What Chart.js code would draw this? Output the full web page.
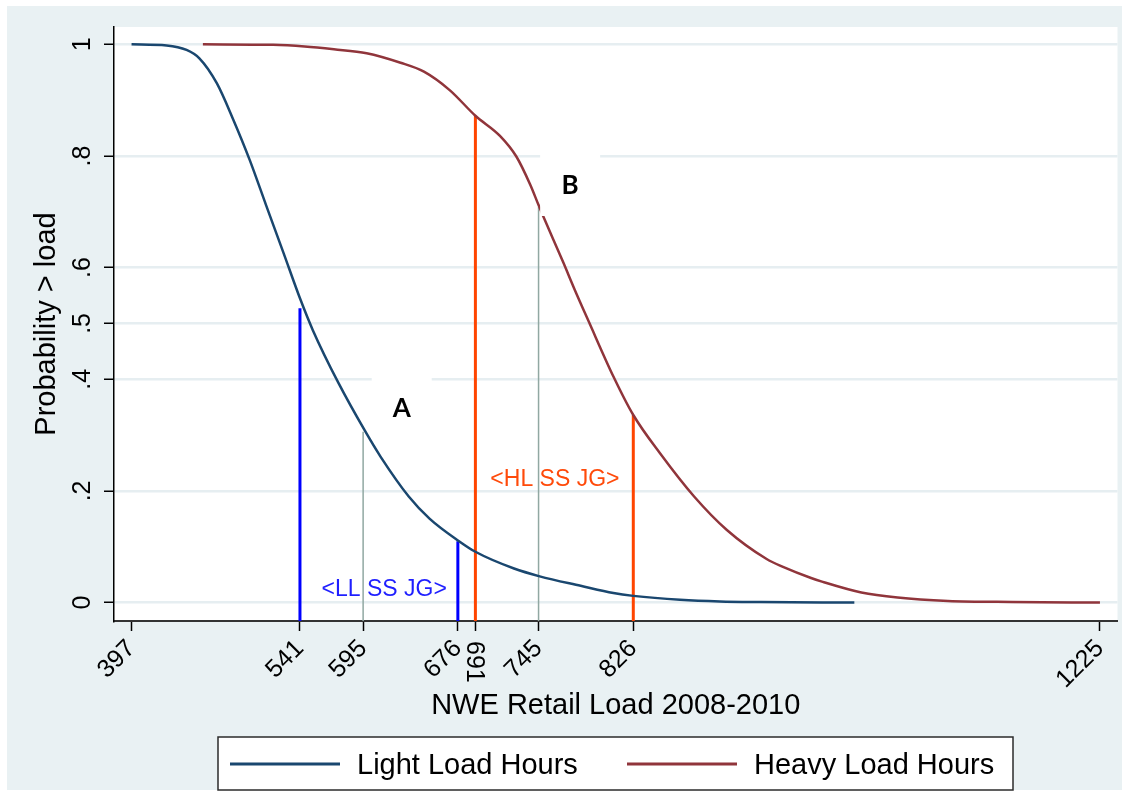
<!DOCTYPE html>
<html>
<head>
<meta charset="utf-8">
<title>NWE Retail Load 2008-2010</title>
<script src="https://cdn.jsdelivr.net/npm/chart.js@4.4.1/dist/chart.umd.min.js"></script>
<style>
  html, body { margin: 0; padding: 0; background: #fff; }
  #wrap { width: 1129px; height: 795px; }
</style>
</head>
<body>
<div id="wrap"><canvas id="loadChart" width="1129" height="795"></canvas></div>
<script>
// exceedance curves: probability that hourly load is above a given level
const lightLoad = [397, 427, 444, 455, 470, 484, 498, 512, 527, 541, 552, 574, 597, 610, 634, 652, 677, 691, 724, 746, 781, 809, 826, 866, 900, 935, 1015];
const lightProb = [1, 0.998, 0.99, 0.975, 0.93, 0.865, 0.793, 0.712, 0.626, 0.545, 0.488, 0.393, 0.306, 0.261, 0.19, 0.15, 0.11, 0.091, 0.061, 0.047, 0.03, 0.017, 0.012, 0.005, 0.002, 0.001, 0];

const heavyLoad = [458, 518, 545, 570, 598, 627, 647, 669, 691, 712, 726, 738, 745, 749, 766, 776, 788, 809, 826, 849, 878, 906, 940, 954, 978, 988, 1021, 1052, 1095, 1150, 1225];
const heavyProb = [1, 0.999, 0.996, 0.991, 0.984, 0.967, 0.951, 0.918, 0.872, 0.836, 0.799, 0.748, 0.712, 0.692, 0.61, 0.56, 0.503, 0.405, 0.336, 0.267, 0.19, 0.13, 0.078, 0.064, 0.044, 0.037, 0.018, 0.009, 0.003, 0.001, 0];

// vertical spikes (load level, height on the curve)
const llLoads = [541, 676];
const llTops = [0.527, 0.110];
const hlLoads = [691, 826];
const hlTops = [0.872, 0.336];
const ssLoads = [595, 745];
const ssTops = [0.306, 0.709];

// axis ticks
const xTicks = [397, 541, 595, 676, 691, 745, 826, 1225];
const uprightTicks = [691];
const yTicks = [0, 0.2, 0.4, 0.5, 0.6, 0.8, 1];
const yTickLabels = ['0', '.2', '.4', '.5', '.6', '.8', '1'];

// text placed in data coordinates
const noteTexts = ['<LL SS JG>', '<HL SS JG>'];
const noteLoads = [613, 759];
const noteProbs = [0.024, 0.221];
const letterTexts = ['A', 'B'];
const letterLoads = [628, 772];
const letterProbs = [0.349, 0.748];

const X_MIN = 382, X_MAX = 1240;
const Y_MIN = -0.033, Y_MAX = 1.031;

const FONT = '"Liberation Sans", Arial, sans-serif';
const noteColors = ['#1f1fff', '#ff4a0a'];

function pairs(xs, ys) {
  return xs.map((x, i) => ({ x: x, y: ys[i] }));
}

function spikes(loads, tops, color, width) {
  return loads.map((v, i) => ({
    data: [{ x: v, y: Y_MIN }, { x: v, y: tops[i] }],
    borderColor: color,
    borderWidth: width,
    pointRadius: 0,
    fill: false
  }));
}

const framePlugin = {
  id: 'frame',
  beforeDraw(chart) {
    const ctx = chart.ctx, a = chart.chartArea;
    ctx.save();
    ctx.fillStyle = '#fff';
    ctx.fillRect(0, 0, chart.width, chart.height);
    ctx.fillStyle = '#e9f1f3';
    ctx.fillRect(7, 6, 1115, 784);
    ctx.fillStyle = '#fff';
    ctx.fillRect(a.left, a.top, a.right - a.left, a.bottom - a.top);
    ctx.restore();
  },
  afterDatasetsDraw(chart) {
    const ctx = chart.ctx;
    const xs = chart.scales.x, ys = chart.scales.y;
    ctx.save();
    ctx.textAlign = 'center';
    ctx.textBaseline = 'middle';
    ctx.font = '23px ' + FONT;
    noteTexts.forEach((t, i) => {
      ctx.fillStyle = noteColors[i];
      ctx.fillText(t, xs.getPixelForValue(noteLoads[i]), ys.getPixelForValue(noteProbs[i]));
    });
    // letters sit on a white box that blanks the grid behind them
    ctx.font = 'bold 26px Lato, "Open Sans", sans-serif';
    letterTexts.forEach((t, i) => {
      const px = xs.getPixelForValue(letterLoads[i]);
      const py = ys.getPixelForValue(letterProbs[i]);
      ctx.fillStyle = '#fff';
      ctx.fillRect(px - 30, py - 31, 60, 62);
      ctx.fillStyle = '#000';
      ctx.fillText(t, px, py + 1);
    });
    ctx.restore();
  },
  afterDraw(chart) {
    const ctx = chart.ctx;
    const xs = chart.scales.x, ys = chart.scales.y;
    ctx.save();
    ctx.fillStyle = '#000';
    ctx.font = '25px ' + FONT;

    // vertical y tick labels
    ctx.textAlign = 'center';
    ctx.textBaseline = 'alphabetic';
    yTicks.forEach((v, i) => {
      ctx.save();
      ctx.translate(90, ys.getPixelForValue(v));
      ctx.rotate(-Math.PI / 2);
      ctx.fillText(yTickLabels[i], 0, 0);
      ctx.restore();
    });

    // crowded x labels are written straight down
    ctx.textAlign = 'left';
    uprightTicks.forEach(v => {
      ctx.save();
      ctx.translate(xs.getPixelForValue(v) - 8, 641);
      ctx.rotate(Math.PI / 2);
      ctx.fillText(String(v), 0, 0);
      ctx.restore();
    });

    // legend
    const items = chart.data.datasets.filter(d => d.inLegend);
    ctx.fillStyle = '#fff';
    ctx.fillRect(218, 737, 795, 53);
    ctx.strokeStyle = '#2b2b2b';
    ctx.lineWidth = 1.5;
    ctx.strokeRect(218, 737, 795, 53);
    const itemX = [230, 627];
    ctx.font = '29px ' + FONT;
    ctx.textBaseline = 'middle';
    items.forEach((d, i) => {
      ctx.strokeStyle = d.borderColor;
      ctx.lineWidth = 3;
      ctx.beginPath();
      ctx.moveTo(itemX[i], 764);
      ctx.lineTo(itemX[i] + 110, 764);
      ctx.stroke();
      ctx.fillStyle = '#000';
      ctx.fillText(d.label, itemX[i] + 127, 766);
    });
    ctx.restore();
  }
};

new Chart(document.getElementById('loadChart').getContext('2d'), {
  type: 'line',
  data: {
    datasets: [
      {
        label: 'Light Load Hours',
        data: pairs(lightLoad, lightProb),
        borderColor: '#1a476f',
        borderWidth: 2.5,
        pointRadius: 0,
        cubicInterpolationMode: 'monotone',
        fill: false,
        inLegend: true
      },
      {
        label: 'Heavy Load Hours',
        data: pairs(heavyLoad, heavyProb),
        borderColor: '#90353b',
        borderWidth: 2.5,
        pointRadius: 0,
        cubicInterpolationMode: 'monotone',
        fill: false,
        inLegend: true
      },
      ...spikes(llLoads, llTops, '#0000ff', 3),
      ...spikes(hlLoads, hlTops, '#ff4500', 3),
      ...spikes(ssLoads, ssTops, '#91a8a2', 1.5)
    ]
  },
  options: {
    responsive: false,
    animation: false,
    devicePixelRatio: 1,
    layout: { padding: { top: 27, right: 11.5, bottom: 0, left: 0 } },
    plugins: {
      legend: { display: false },
      tooltip: { enabled: false }
    },
    scales: {
      x: {
        type: 'linear',
        min: X_MIN,
        max: X_MAX,
        afterBuildTicks(s) { s.ticks = xTicks.map(v => ({ value: v })); },
        afterFit(s) { s.height = 174; },
        grid: { drawOnChartArea: false, drawTicks: true, tickLength: 10, tickColor: '#000', tickWidth: 1.5 },
        border: { display: true, color: '#333', width: 2 },
        ticks: {
          autoSkip: false,
          minRotation: 45,
          maxRotation: 45,
          padding: 3,
          color: '#000',
          font: { family: FONT, size: 25 },
          callback: v => uprightTicks.includes(v) ? '' : String(v)
        },
        title: {
          display: true,
          text: 'NWE Retail Load 2008-2010',
          color: '#000',
          font: { family: FONT, size: 29 },
          padding: { top: 0, bottom: 71.6 }
        }
      },
      y: {
        min: Y_MIN,
        max: Y_MAX,
        afterBuildTicks(s) { s.ticks = yTicks.map(v => ({ value: v })); },
        afterFit(s) { s.width = 114; },
        grid: { color: '#e6eef1', lineWidth: 2.5, drawTicks: true, tickLength: 10, tickColor: '#000', tickWidth: 1.5 },
        border: { display: true, color: '#000', width: 1.5 },
        ticks: { display: false },
        title: {
          display: true,
          text: 'Probability > load',
          color: '#000',
          font: { family: FONT, size: 29 },
          padding: { top: 29.6, bottom: 0 }
        }
      }
    }
  },
  plugins: [framePlugin]
});
</script>
</body>
</html>
